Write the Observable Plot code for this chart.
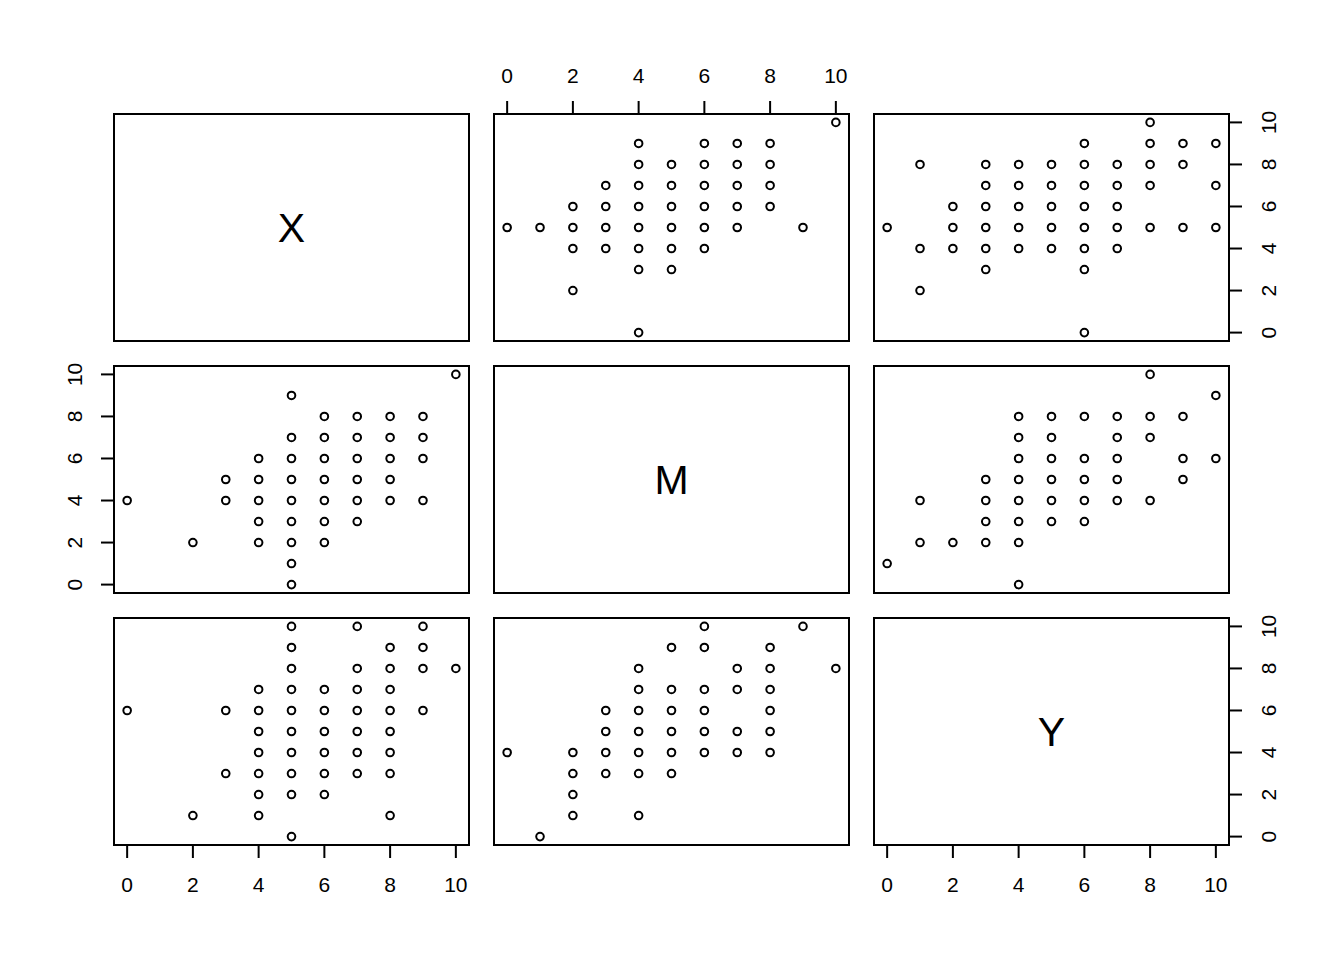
<!DOCTYPE html>
<html>
<head>
<meta charset="utf-8">
<script>
  // render strokes on whole pixels (avoid Plot's half-pixel offset)
  try { window.devicePixelRatio = 2; } catch (e) {}
</script>
<script src="https://cdn.jsdelivr.net/npm/d3@7"></script>
<script src="https://cdn.jsdelivr.net/npm/@observablehq/plot@0.6"></script>
<style>
  html, body { margin: 0; padding: 0; background: #ffffff; }
  #chart { position: relative; width: 1344px; height: 960px; background: #ffffff; overflow: hidden; }
  #chart svg { position: absolute; }
</style>
</head>
<body>
<div id="chart"></div>
<script>
// Variables shown on the diagonal
const variables = ["X", "M", "Y"];
const tickValues = [0, 2, 4, 6, 8, 10];

// Observed (X, M) pairs
const pairsXM = [
  [10,10],
  [5,9],
  [6,8],[7,8],[8,8],[9,8],
  [5,7],[6,7],[7,7],[8,7],[9,7],
  [4,6],[5,6],[6,6],[7,6],[8,6],[9,6],
  [3,5],[4,5],[5,5],[6,5],[7,5],[8,5],
  [0,4],[3,4],[4,4],[5,4],[6,4],[7,4],[8,4],[9,4],
  [4,3],[5,3],[6,3],[7,3],
  [2,2],[4,2],[5,2],[6,2],
  [5,1],
  [5,0]
];

// Observed (X, Y) pairs
const pairsXY = [
  [5,10],[7,10],[9,10],
  [5,9],[8,9],[9,9],
  [5,8],[7,8],[8,8],[9,8],[10,8],
  [4,7],[5,7],[6,7],[7,7],[8,7],
  [0,6],[3,6],[4,6],[5,6],[6,6],[7,6],[8,6],[9,6],
  [4,5],[5,5],[6,5],[7,5],[8,5],
  [4,4],[5,4],[6,4],[7,4],[8,4],
  [3,3],[4,3],[5,3],[6,3],[7,3],[8,3],
  [4,2],[5,2],[6,2],
  [2,1],[4,1],[8,1],
  [5,0]
];

// Observed (M, Y) pairs
const pairsMY = [
  [10,8],
  [9,10],
  [8,4],[8,5],[8,6],[8,7],[8,8],[8,9],
  [7,4],[7,5],[7,7],[7,8],
  [6,4],[6,5],[6,6],[6,7],[6,9],[6,10],
  [5,3],[5,4],[5,5],[5,6],[5,7],[5,9],
  [4,1],[4,3],[4,4],[4,5],[4,6],[4,7],[4,8],
  [3,3],[3,4],[3,5],[3,6],
  [2,1],[2,2],[2,3],[2,4],
  [1,0],
  [0,4]
];

const pairTable = { "X|M": pairsXM, "X|Y": pairsXY, "M|Y": pairsMY };

function pairsFor(xVar, yVar) {
  if (pairTable[xVar + "|" + yVar]) return pairTable[xVar + "|" + yVar].map(([a, b]) => ({x: a, y: b}));
  return pairTable[yVar + "|" + xVar].map(([a, b]) => ({x: b, y: a}));
}

// layout
const panelW = 355, panelH = 227;
const colLeft = [114, 494, 874];
const rowTop = [114, 366, 618];
const domain = [-0.4, 10.4];
const FONT = "'Liberation Sans', Arial, Helvetica, sans-serif";
const TICK = 13;

const axisSpec = {
  top:    (i, j) => i === 0 && j === 1,
  bottom: (i, j) => i === 2 && (j === 0 || j === 2),
  left:   (i, j) => i === 1 && j === 0,
  right:  (i, j) => j === 2 && (i === 0 || i === 2)
};

const chart = document.getElementById("chart");

function yAxisMarks(anchor, padding, lineAnchor) {
  return [
    // tick marks
    Plot.axisY(tickValues, {
      anchor, tickSize: TICK, tickPadding: 0, strokeWidth: 2, stroke: "black",
      label: null, tickFormat: () => ""
    }),
    // rotated labels (parallel to the axis)
    Plot.axisY(tickValues, {
      anchor, tickSize: 0, tickPadding: TICK + padding, fontSize: 21, fill: "black",
      label: null, rotate: -90, textAnchor: "middle", lineAnchor,
      tickFormat: d => String(d)
    })
  ];
}

for (let i = 0; i < 3; i++) {
  for (let j = 0; j < 3; j++) {
    const hasTop = axisSpec.top(i, j), hasBottom = axisSpec.bottom(i, j);
    const hasLeft = axisSpec.left(i, j), hasRight = axisSpec.right(i, j);
    const mT = hasTop ? 60 : 2, mB = hasBottom ? 60 : 2;
    const mL = hasLeft ? 60 : 2, mR = hasRight ? 60 : 2;
    const marks = [];
    if (i === j) {
      marks.push(Plot.text([variables[i]], {
        frameAnchor: "middle", text: d => d, fontSize: 41, fill: "black",
        fontFamily: FONT, dy: 1.5
      }));
    } else {
      marks.push(Plot.dot(pairsFor(variables[j], variables[i]), {
        x: "x", y: "y", r: 3.8, stroke: "black", strokeWidth: 2, fill: "none"
      }));
    }
    marks.push(Plot.frame({stroke: "black", strokeWidth: 2}));
    if (hasTop) marks.push(Plot.axisX(tickValues, {
      anchor: "top", tickSize: TICK, tickPadding: 18, fontSize: 21, strokeWidth: 2,
      stroke: "black", fill: "black", label: null, tickFormat: d => String(d)
    }));
    if (hasBottom) marks.push(Plot.axisX(tickValues, {
      anchor: "bottom", tickSize: TICK, tickPadding: 19, fontSize: 21, strokeWidth: 2,
      stroke: "black", fill: "black", label: null, tickFormat: d => String(d)
    }));
    if (hasLeft) marks.push(...yAxisMarks("left", 19, "bottom"));
    if (hasRight) marks.push(...yAxisMarks("right", 19, "top"));
    const svg = Plot.plot({
      width: panelW + mL + mR,
      height: panelH + mT + mB,
      marginTop: mT, marginBottom: mB, marginLeft: mL, marginRight: mR,
      x: hasTop || hasBottom ? {domain} : {domain, axis: null},
      y: hasLeft || hasRight ? {domain} : {domain, axis: null},
      style: {fontFamily: FONT, background: "transparent", color: "black", overflow: "visible"},
      marks
    });
    svg.style.left = (colLeft[j] - mL) + "px";
    svg.style.top = (rowTop[i] - mT) + "px";
    chart.appendChild(svg);
  }
}
</script>
</body>
</html>
